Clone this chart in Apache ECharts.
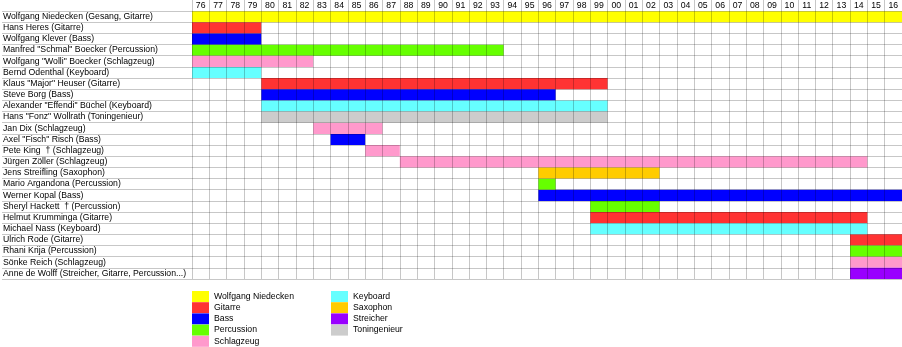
<!DOCTYPE html>
<html><head><meta charset="utf-8">
<script src="https://cdn.jsdelivr.net/npm/echarts@6/dist/echarts.min.js"></script>
<style>html,body{margin:0;padding:0;background:#fff}#c{width:902px;height:347px}</style>
</head><body><div id="c"></div>
<script>
const years = ['76','77','78','79','80','81','82','83','84','85','86','87','88','89','90','91','92','93','94','95','96','97','98','99','00','01','02','03','04','05','06','07','08','09','10','11','12','13','14','15','16'];
const members = [
  'Wolfgang Niedecken (Gesang, Gitarre)',
  'Hans Heres (Gitarre)',
  'Wolfgang Klever (Bass)',
  'Manfred "Schmal" Boecker (Percussion)',
  'Wolfgang "Wolli" Boecker (Schlagzeug)',
  'Bernd Odenthal (Keyboard)',
  'Klaus "Major" Heuser (Gitarre)',
  'Steve Borg (Bass)',
  'Alexander "Effendi" Büchel (Keyboard)',
  'Hans "Fonz" Wollrath (Toningenieur)',
  'Jan Dix (Schlagzeug)',
  'Axel "Fisch" Risch (Bass)',
  'Pete King  † (Schlagzeug)',
  'Jürgen Zöller (Schlagzeug)',
  'Jens Streifling (Saxophon)',
  'Mario Argandona (Percussion)',
  'Werner Kopal (Bass)',
  'Sheryl Hackett  † (Percussion)',
  'Helmut Krumminga (Gitarre)',
  'Michael Nass (Keyboard)',
  'Ulrich Rode (Gitarre)',
  'Rhani Krija (Percussion)',
  'Sönke Reich (Schlagzeug)',
  'Anne de Wolff (Streicher, Gitarre, Percussion...)'
];
const firstYear = [1976,1976,1976,1976,1976,1976,1980,1980,1980,1980,1983,1984,1986,1988,1996,1996,1996,1999,1999,1999,2014,2014,2014,2014];
const lastYear  = [2016,1979,1979,1993,1982,1979,1999,1996,1999,1999,1986,1985,1987,2014,2002,1996,2016,2002,2014,2014,2016,2016,2016,2016];
const memberRole = ['Wolfgang Niedecken','Gitarre','Bass','Percussion','Schlagzeug','Keyboard','Gitarre','Bass','Keyboard','Toningenieur','Schlagzeug','Bass','Schlagzeug','Schlagzeug','Saxophon','Percussion','Bass','Percussion','Gitarre','Keyboard','Gitarre','Percussion','Schlagzeug','Streicher'];
const roles = ['Wolfgang Niedecken','Gitarre','Bass','Percussion','Schlagzeug','Keyboard','Saxophon','Streicher','Toningenieur'];
const roleColors = ['#ffff00','#ff3333','#0000ff','#66ff00','#ff99cc','#66ffff','#ffcc00','#9900ff','#cccccc'];
const legendCol1 = roles.slice(0,5);
const legendCol2 = roles.slice(5);

const FONT = 'Liberation Sans, Arial, sans-serif';
const FS = 8.7;
const gridLine = {show:true, lineStyle:{color:'rgba(0,0,0,0.22)', width:1}};

const series = roles.map((r, ri) => ({
  type:'custom', name:r, xAxisIndex:0, yAxisIndex:1, clip:false,
  itemStyle:{color:roleColors[ri]},
  encode:{x:[0,1], y:2},
  data: members.map((m,i)=> memberRole[i]===r ? [firstYear[i], lastYear[i]+1, i+1] : null).filter(d=>d),
  renderItem:(params, api)=>{
    const s = api.coord([api.value(0), api.value(2)]);
    const e = api.coord([api.value(1), api.value(2)]);
    const h = api.size([0,1])[1];
    return {type:'rect', shape:{x:s[0], y:s[1]-h/2, width:e[0]-s[0], height:h}, style:{fill:roleColors[ri]}};
  }
}));

const legendBase = {orient:'vertical', icon:'rect', itemWidth:17, itemHeight:11, itemGap:0.2,
  padding:0, top:291, height:60, selectedMode:false,
  textStyle:{fontSize:FS, color:'#000', fontFamily:FONT, lineHeight:11}};

const chart = echarts.init(document.getElementById('c'), null, {renderer:'canvas'});
chart.setOption({
  animation:false,
  textStyle:{fontFamily:FONT},
  grid:[
    {left:0, right:0, top:11, bottom:68},
    {left:192, right:0, top:0, bottom:68}
  ],
  xAxis:[
    {type:'value', gridIndex:1, min:1976, max:2017, interval:1, z:10,
     axisLabel:{show:false}, axisTick:{show:false}, axisLine:{show:false}, splitLine:gridLine},
    {type:'category', gridIndex:1, data:years, position:'top', boundaryGap:true,
     axisLine:{show:false}, axisTick:{show:false}, splitLine:{show:false},
     axisLabel:{inside:true, interval:0, margin:5.5, verticalAlign:'middle', fontSize:FS, color:'#000', fontFamily:FONT}},
    {type:'value', gridIndex:0, show:false, min:0, max:1}
  ],
  yAxis:[
    {type:'category', gridIndex:0, data:members, inverse:true, z:10,
     axisLine:{show:false}, axisTick:{show:false}, splitLine:Object.assign({interval:0}, gridLine),
     axisLabel:{inside:true, interval:0, margin:1, align:'left', fontSize:FS, color:'#000', fontFamily:FONT}},
    {type:'category', gridIndex:1, data:[''].concat(members), inverse:true, show:false}
  ],
  legend:[
    Object.assign({data:legendCol1, left:192}, legendBase),
    Object.assign({data:legendCol2, left:331}, legendBase)
  ],
  series: series
});
</script>
</body></html>
